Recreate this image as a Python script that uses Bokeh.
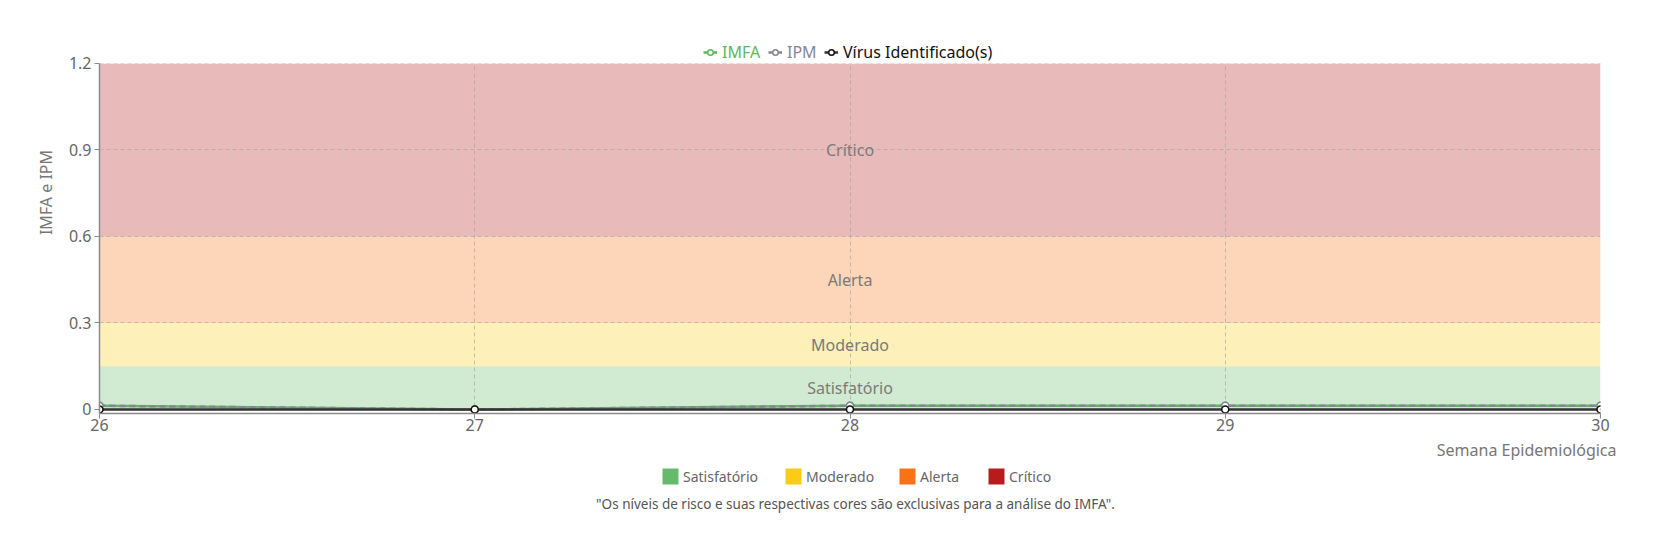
import math

from bokeh.core.properties import value
from bokeh.embed import file_html
from bokeh.layouts import column, row
from bokeh.models import (BoxAnnotation, ColumnDataSource, FixedTicker, Label,
                          Legend, LegendItem, Range1d)
from bokeh.plotting import figure
from bokeh.resources import INLINE

FONT = "Noto Sans"
W = 1637

# data
weeks = [26, 27, 28, 29, 30]
imfa = [0.013, 0.0, 0.013, 0.013, 0.013]
ipm = [0.013, 0.0, 0.013, 0.013, 0.013]
virus = [0.0, 0.0, 0.0, 0.0, 0.0]

band_names = ["Satisfatório", "Moderado", "Alerta", "Crítico"]
band_lo = [0.0, 0.15, 0.3, 0.6]
band_hi = [0.15, 0.3, 0.6, 1.2]
band_colors = ["#66bb6a", "#facc15", "#f97316", "#b71c1c"]

y_ticks = [0, 0.3, 0.6, 0.9, 1.2]
note = '"Os níveis de risco e suas respectivas cores são exclusivas para a análise do IMFA".'


def blank(width, height):
    # a figure whose frame is the whole canvas, used for texts and legends
    f = figure(width=width, height=height, frame_width=width,
               frame_height=height, min_border=0,
               x_range=Range1d(0, 1), y_range=Range1d(0, 1),
               x_axis_type=None, y_axis_type=None,
               output_backend="svg", toolbar_location=None)
    f.grid.visible = False
    f.outline_line_color = None
    return f


def small_legend(fig, items, x, y, color, gw, gh, size, standoff=5):
    lg = Legend(items=items, location=(x, y), orientation="horizontal",
                glyph_width=gw, glyph_height=gh, label_height=16,
                label_standoff=standoff, padding=0, margin=0, spacing=0,
                border_line_color=None, background_fill_alpha=0,
                label_text_font=FONT, label_text_font_size=size,
                label_text_color=color)
    fig.add_layout(lg, "center")


# main chart; the frame reaches the top of the page so the series legend
# can sit above the 1.2 line
p = figure(width=W - 55, height=413 + 26, frame_width=1501,
           frame_height=413, min_border_left=44, min_border_right=37,
           min_border_top=0, min_border_bottom=26,
           x_range=Range1d(26, 30), y_range=Range1d(-0.0139, 1.4185),
           output_backend="svg", toolbar_location=None)
p.outline_line_color = None

bands = ColumnDataSource(dict(
    left=[weeks[0]] * 4, right=[weeks[-1]] * 4,
    bottom=band_lo, top=band_hi, color=band_colors,
    mid=[(a + b) / 2 for a, b in zip(band_lo, band_hi)],
    xc=[(weeks[0] + weeks[-1]) / 2] * 4, name=band_names))
p.quad(left="left", right="right", bottom="bottom", top="top", source=bands,
       fill_color="color", fill_alpha=0.3, line_color=None, level="image")
p.text(x="xc", y="mid", text="name", source=bands, text_align="center",
       text_baseline="middle", text_color="#7a7a7a", text_font_size="16px",
       text_font=value(FONT))

for g in (p.xgrid, p.ygrid):
    g.grid_line_color = "#a8a8a8"
    g.grid_line_dash = "4 3"
    g.grid_line_alpha = 0.7
p.xgrid.ticker = FixedTicker(ticks=weeks)
p.ygrid.ticker = FixedTicker(ticks=y_ticks)
# hide grid above the top of the scale
p.add_layout(BoxAnnotation(bottom=band_hi[-1], fill_color="white",
                           fill_alpha=1, line_color=None, level="glyph"))

src = ColumnDataSource(dict(w=weeks, imfa=imfa, ipm=ipm, virus=virus))
l_imfa = p.line("w", "imfa", source=src, line_color="#5cb85c", line_width=2.5)
c_imfa = p.scatter("w", "imfa", source=src, size=7, fill_color="white",
                   line_color="#5cb85c", line_width=1.5)
l_ipm = p.line("w", "ipm", source=src, line_color="#858595", line_width=2.5,
               line_dash="6 4")
c_ipm = p.scatter("w", "ipm", source=src, size=7, fill_color="white",
                  line_color="#858595", line_width=1.5)
l_vir = p.line("w", "virus", source=src, line_color="#333333", line_width=2.5)
c_vir = p.scatter("w", "virus", source=src, size=7, fill_color="white",
                  line_color="#111111", line_width=1.5)

p.xaxis.ticker = FixedTicker(ticks=weeks)
p.yaxis.ticker = FixedTicker(ticks=y_ticks)
p.yaxis.bounds = (-0.0139, band_hi[-1])
p.yaxis.major_label_overrides = {0: "0"}
for ax in (p.xaxis, p.yaxis):
    ax.axis_line_color = "#8a8a8a"
    ax.axis_line_width = 1.5
    ax.major_tick_line_color = "#8a8a8a"
    ax.major_tick_in = 0
    ax.major_tick_out = 5
    ax.minor_tick_line_color = None
    ax.major_label_text_font = FONT
    ax.major_label_text_font_size = "16px"
    ax.major_label_text_color = "#666666"
p.xaxis.major_label_standoff = 0
p.yaxis.major_label_standoff = 3

# series legend (screen offsets from the frame's lower left corner)
small_legend(p, [LegendItem(label="IMFA", renderers=[l_imfa, c_imfa])],
             604, 350, "#5cb85c", 14, 16, "16px")
small_legend(p, [LegendItem(label="IPM", renderers=[l_ipm, c_ipm])],
             669, 350, "#858595", 14, 16, "16px")
small_legend(p, [LegendItem(label="Vírus Identificado(s)",
                            renderers=[l_vir, c_vir])],
             725, 350, "#111111", 14, 16, "16px")

# y axis title, left strip
left = blank(55, 413 + 26)
left.add_layout(Label(x=45, y=247, x_units="screen", y_units="screen",
                      text="IMFA e IPM", angle=math.pi / 2,
                      text_align="center", text_baseline="middle",
                      text_font=FONT, text_font_size="16px",
                      text_color="#777777"))

# x axis title, risk legend and note, bottom strip
bottom = blank(W, 91)
bottom.add_layout(Label(x=1616, y=81, x_units="screen", y_units="screen",
                        text="Semana Epidemiológica", text_align="right",
                        text_baseline="middle", text_font=FONT,
                        text_font_size="16px", text_color="#777777"))
bottom.add_layout(Label(x=855, y=27, x_units="screen", y_units="screen",
                        text=note, text_align="center", text_baseline="middle",
                        text_font=FONT, text_font_size="13.5px",
                        text_color="#555555"))
# swatches: band quads lie outside this strip's ranges, only the legend shows them
sw = bottom.quad(left="left", right="right", bottom="bottom", top="top",
                 source=bands, fill_color="color", line_color=None)
swatch_x = [660, 783, 897, 986]
for i, (name, sx) in enumerate(zip(band_names, swatch_x)):
    small_legend(bottom, [LegendItem(label=name, renderers=[sw], index=i)],
                 sx, 44, "#666666", 20, 20, "14px", standoff=3)

layout = column(row(left, p), bottom)

html = file_html(layout, INLINE, "IMFA")
open("out.html", "w").write(html)
